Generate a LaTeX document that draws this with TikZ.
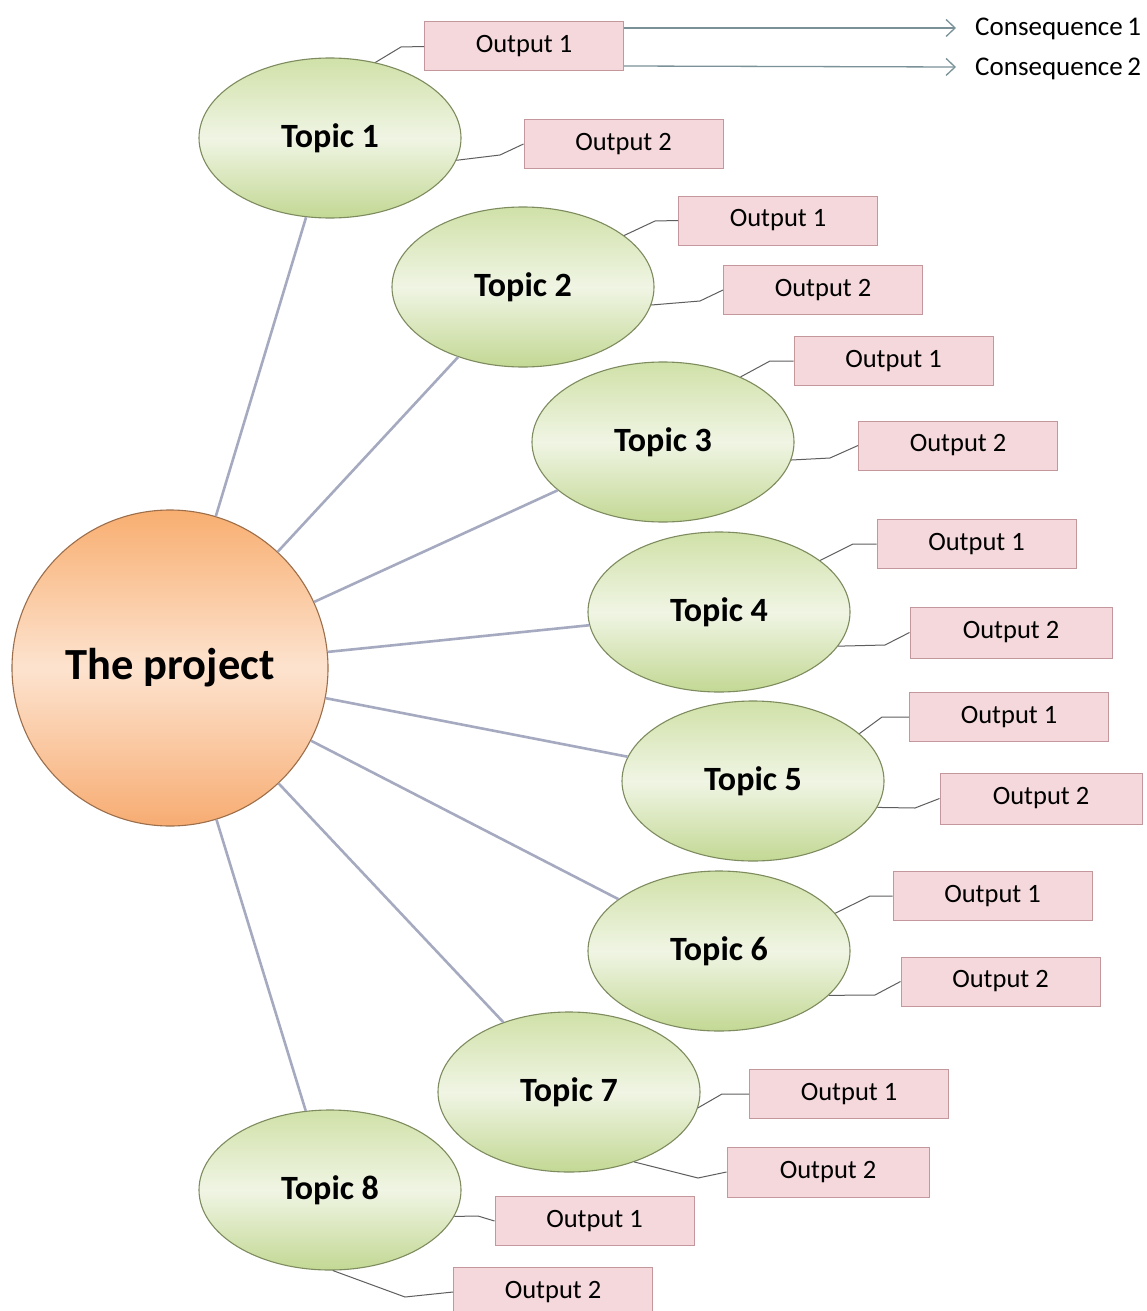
\documentclass[tikz,border=0pt]{standalone}
\usepackage{fontspec}
\setmainfont{Carlito}
\usetikzlibrary{arrows.meta,shapes.geometric}
\definecolor{linkc}{HTML}{A6AAC0}
\definecolor{subc}{HTML}{5E5E5E}
\definecolor{consc}{HTML}{7A9198}
\definecolor{elltop}{HTML}{D0E1A8}
\definecolor{ellmid}{HTML}{F0F5E4}
\definecolor{ellbot}{HTML}{C3D894}
\definecolor{elldraw}{HTML}{7D8B5E}
\definecolor{circtop}{HTML}{F8AE70}
\definecolor{circmid}{HTML}{FDE3CF}
\definecolor{circbot}{HTML}{F7AC72}
\definecolor{circdraw}{HTML}{9C6E4A}
\definecolor{boxfill}{HTML}{F5D8DC}
\definecolor{boxdraw}{HTML}{C4979C}
\tikzset{
  topic/.style={ellipse, minimum width=262pt, minimum height=160pt, inner sep=0pt,
    draw=elldraw, line width=1.1pt, top color=elltop, bottom color=ellbot, middle color=ellmid,
    font=\fontsize{34}{40}\selectfont\bfseries},
  projc/.style={circle, minimum size=316pt, inner sep=0pt,
    draw=circdraw, line width=1.1pt, top color=circtop, bottom color=circbot, middle color=circmid,
    font=\fontsize{44.5}{52}\selectfont\bfseries},
  outbox/.style={rectangle, minimum width=199pt, minimum height=49pt, inner sep=0pt,
    draw=boxdraw, line width=1pt, fill=boxfill, font=\fontsize{26.5}{30}\selectfont},
  conseq/.style={anchor=west, inner sep=0pt, font=\fontsize{27}{30}\selectfont},
  link/.style={draw=linkc, line width=2.6pt},
  sublink/.style={draw=subc, line width=1pt},
  conslink/.style={draw=consc, line width=1.3pt, -{Straight Barb[length=9pt,width=17pt,line width=1.3pt]}}
}
\begin{document}
\begin{tikzpicture}[x=1pt,y=-1pt]
\useasboundingbox[fill=white] (0,0) rectangle (1147,1311);

\node[projc] (P) at (170,668) {The project};
\node[topic] (T1) at (330,138) {Topic 1};
\node[topic] (T2) at (523,287) {Topic 2};
\node[topic] (T3) at (663,442) {Topic 3};
\node[topic] (T4) at (719,612) {Topic 4};
\node[topic] (T5) at (753,781) {Topic 5};
\node[topic] (T6) at (719,951) {Topic 6};
\node[topic] (T7) at (569,1092) {Topic 7};
\node[topic] (T8) at (330,1190) {Topic 8};

\foreach \t in {1,...,8} {\draw[link] (P) -- (T\t);}

% output boxes
\node[outbox] (o11) at (524,46.5) {Output 1};
\node[outbox] (o12) at (623.5,144) {Output 2};
\node[outbox] (o21) at (778,220.5) {Output 1};
\node[outbox] (o22) at (823,290) {Output 2};
\node[outbox] (o31) at (893.5,361) {Output 1};
\node[outbox] (o32) at (958,445.5) {Output 2};
\node[outbox] (o41) at (976.5,544) {Output 1};
\node[outbox, minimum width=202pt, minimum height=51pt] (o42) at (1011,632.5) {Output 2};
\node[outbox] (o51) at (1009,717) {Output 1};
\node[outbox, minimum width=202pt, minimum height=51pt] (o52) at (1041,798.5) {Output 2};
\node[outbox] (o61) at (992.5,896) {Output 1};
\node[outbox] (o62) at (1000.5,981.5) {Output 2};
\node[outbox] (o71) at (849,1094) {Output 1};
\node[outbox, minimum width=202pt, minimum height=50pt] (o72) at (828,1172) {Output 2};
\node[outbox] (o81) at (594.5,1221) {Output 1};
\node[outbox] (o82) at (553,1292) {Output 2};

% consequences
\node[conseq] (c1) at (975,29) {Consequence\,1};
\node[conseq] (c2) at (975,69) {Consequence\,2};
\draw[conslink] ([yshift=18.5pt]o11.east) -- ([xshift=-19pt,yshift=1pt]c1.west);
\draw[conslink] ([yshift=-19.5pt]o11.east) -- ([xshift=-19pt,yshift=2pt]c2.west);

% topic -> output connectors
\draw[sublink] (T1.59) -- (401,47) -- (o11.west);
\draw[sublink] (T1.-10) -- (500,155) -- (o12.west);
\draw[sublink] (T2.27) -- (655,221) -- (o21.west);
\draw[sublink] (T2.-8) -- (700,301) -- (o22.west);
\draw[sublink] (T3.40) -- (770,361) -- (o31.west);
\draw[sublink] (T3.-8) -- (830,458) -- (o32.west);
\draw[sublink] (T4.27) -- (853,544) -- (o41.west);
\draw[sublink] (T4.-16) -- (885,645) -- (o42.west);
\draw[sublink] (T5.24) -- (882,717) -- (o51.west);
\draw[sublink] (T5.-12) -- (915,808) -- (o52.west);
\draw[sublink] (T6.18) -- (870,896) -- (o61.west);
\draw[sublink] (T6.-22) -- (875,995) -- (o62.west);
\draw[sublink] (T7.-7) -- (722,1094) -- (o71.west);
\draw[sublink] (T7.-47) -- (698,1178) -- (o72.west);
\draw[sublink] (T8.-12) -- (478,1216) -- (o81.west);
\draw[sublink] (T8.-88) -- (405,1297) -- (o82.west);
\end{tikzpicture}
\end{document}
